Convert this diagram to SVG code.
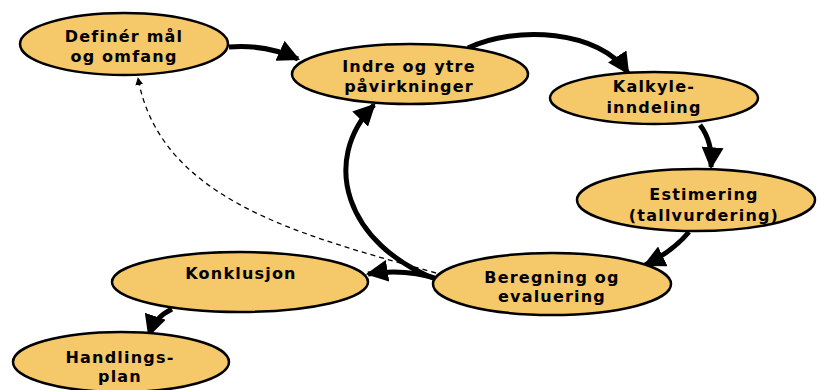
<svg xmlns="http://www.w3.org/2000/svg" width="821" height="390" viewBox="0 0 821 390">
  <style>
    .node ellipse { fill: #F5C869; stroke: #000; stroke-width: 2.5; }
    .node text { font-family: "DejaVu Sans", "Liberation Sans", sans-serif; font-weight: bold; font-size: 16px; letter-spacing: 1.2px; fill: #000; text-anchor: middle; }
    .flow { fill: none; stroke: #000; stroke-width: 5; }
    .dash { fill: none; stroke: #000; stroke-width: 1.3; stroke-dasharray: 5 4; }
  </style>
  <defs>
    <marker id="head" viewBox="0 0 10 10" refX="9" refY="5" markerWidth="4.4" markerHeight="4.4" orient="auto" markerUnits="strokeWidth">
      <path d="M0,0 L10,5 L0,10 z" fill="#000"/>
    </marker>
    <marker id="headSmall" viewBox="0 0 10 10" refX="9" refY="5" markerWidth="6" markerHeight="6" orient="auto" markerUnits="strokeWidth">
      <path d="M0,0 L10,5 L0,10 z" fill="#000"/>
    </marker>
  </defs>

  <g id="connectors">
    <path class="dash" d="M436,273 C300,235 160,200 138,78" marker-end="url(#headSmall)"/>
    <path class="flow" d="M229,47 Q265,44 298,59" marker-end="url(#head)"/>
    <path class="flow" d="M468,48 C515,25 600,30 628,73" marker-end="url(#head)"/>
    <path class="flow" d="M700,125 Q713,142 711,167" marker-end="url(#head)"/>
    <path class="flow" d="M689,232 Q672,252 645,265" marker-end="url(#head)"/>
    <path class="flow" d="M438,280 C345,245 320,160 374,105" marker-end="url(#head)"/>
    <path class="flow" d="M438,279 Q405,268 368,274" marker-end="url(#head)"/>
    <path class="flow" d="M172,309 Q155,317 149,335" marker-end="url(#head)"/>
  </g>

  <g id="definer" class="node">
    <ellipse cx="124" cy="44" rx="104" ry="31"/>
    <text x="124" y="42">Definér mål</text>
    <text x="124" y="62">og omfang</text>
  </g>
  <g id="indre" class="node">
    <ellipse cx="410" cy="74" rx="118" ry="30"/>
    <text x="409" y="72">Indre og ytre</text>
    <text x="409" y="92">påvirkninger</text>
  </g>
  <g id="kalkyle" class="node">
    <ellipse cx="654" cy="98" rx="104" ry="26"/>
    <text x="654" y="92">Kalkyle-</text>
    <text x="654" y="113">inndeling</text>
  </g>
  <g id="estimering" class="node">
    <ellipse cx="696" cy="200" rx="119" ry="31"/>
    <text x="704" y="200">Estimering</text>
    <text x="704" y="221">(tallvurdering)</text>
  </g>
  <g id="beregning" class="node">
    <ellipse cx="552" cy="284" rx="119" ry="31"/>
    <text x="552" y="283">Beregning og</text>
    <text x="552" y="302">evaluering</text>
  </g>
  <g id="konklusjon" class="node">
    <ellipse cx="240" cy="282" rx="128" ry="30"/>
    <text x="241" y="279">Konklusjon</text>
  </g>
  <g id="handling" class="node">
    <ellipse cx="121" cy="362" rx="108" ry="30"/>
    <text x="120" y="363">Handlings-</text>
    <text x="120" y="382">plan</text>
  </g>
</svg>
